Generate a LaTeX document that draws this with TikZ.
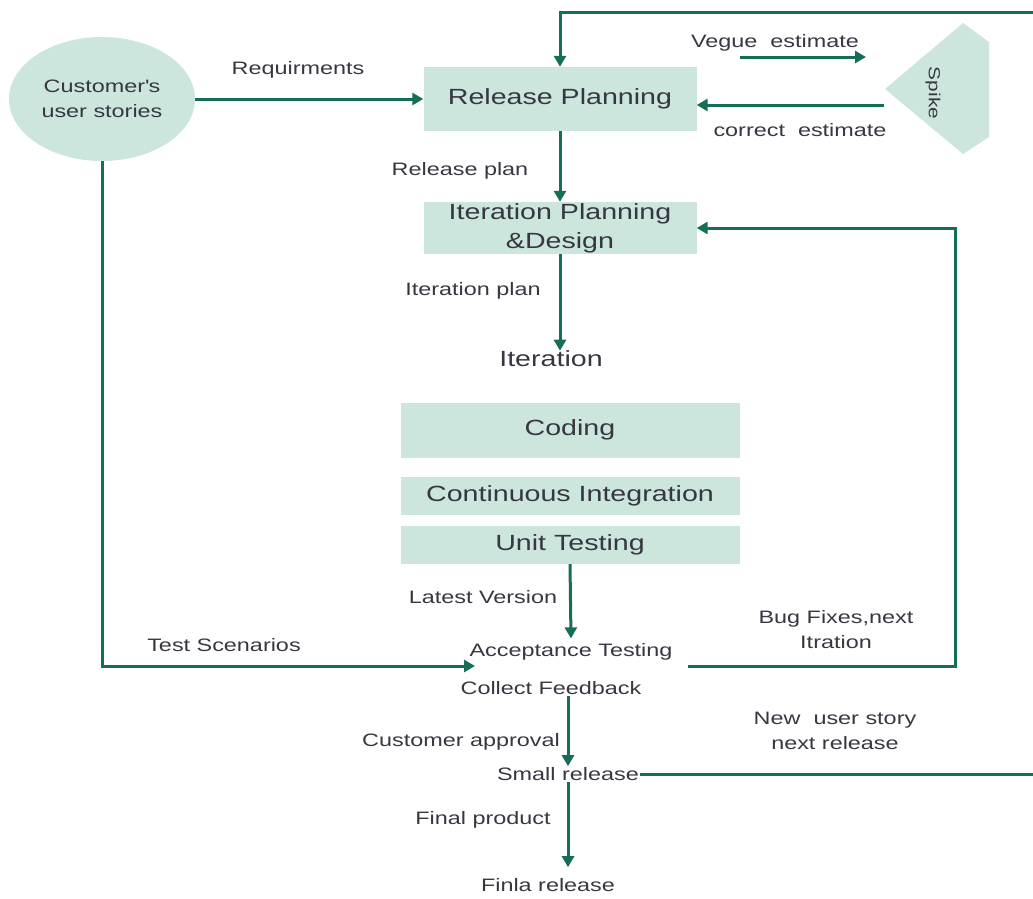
\documentclass[tikz,border=0pt]{standalone}
\usepackage{fontspec}
\setmainfont[FakeStretch=1.3]{Liberation Sans}
\usetikzlibrary{arrows.meta,positioning,calc,shapes.geometric}
\definecolor{flowgreen}{RGB}{22,110,88}
\definecolor{boxfill}{RGB}{204,230,222}
\definecolor{txtgrey}{RGB}{55,55,65}
\newcommand{\bigfont}{\fontsize{22}{29}\selectfont}
\newcommand{\smallfont}{\fontsize{18}{25}\selectfont}

\begin{document}
\begin{tikzpicture}[
  x=1pt, y=-1pt,
  box/.style={fill=boxfill, inner sep=0pt, align=center, font=\bigfont, text=txtgrey},
  lbl/.style={font=\smallfont, text=txtgrey, align=center, inner sep=1pt},
  arrow/.style={-{Triangle[length=11pt,width=12pt]}, line width=3pt, draw=flowgreen},
  flow/.style={line width=3pt, draw=flowgreen},
]
  \useasboundingbox (0,0) rectangle (1033,898);

  % customer and planning
  \node[ellipse, fill=boxfill, minimum width=186pt, minimum height=124pt, font=\smallfont, text=txtgrey, align=center, inner sep=0pt] (stories) at (102,99) {Customer\textquotesingle s\\user stories};
  \node[box, minimum width=273pt, minimum height=64pt] (rp) at (560,99) {Release Planning};
  \node[box, minimum width=273pt, minimum height=52pt] (ip) at (560,228) {Iteration Planning\\\&Design};

  % spike
  \fill[boxfill] (885,89) -- (963,23) -- (989,42) -- (989,137) -- (963,154) -- cycle;
  \node[lbl, rotate=-90, font=\fontsize{16}{18}\selectfont] (spike) at (933,93) {Spike};
  \coordinate (vs) at (740,57);
  \coordinate (ve) at (866,57);
  \coordinate (ce) at (884,105);

  % iteration
  \node[box, fill=none] (iter) at (551,359) {Iteration};
  \node[box, minimum width=339pt, minimum height=55pt] (coding) at (570,430) {Coding};
  \node[box, minimum width=339pt, minimum height=38pt] (ci) at (570,496) {Continuous Integration};
  \node[box, minimum width=339pt, minimum height=38pt] (ut) at (570,545) {Unit Testing};

  % acceptance and release
  \node[lbl] (accept) at (571,652) {Acceptance Testing};
  \node[lbl] (feedback) at (551,688) {Collect Feedback};
  \node[lbl] (smallrel) at (568,774) {Small release};
  \node[lbl] (final) at (548,885) {Finla release};
  \coordinate (ts) at (475,666);
  \coordinate (bf) at (688,666);
  \coordinate (bfx) at (955,666);
  \coordinate (rtop) at (1045,12);
  \coordinate (rbot) at (1045,771);

  % labels
  \node[lbl] (lreq) at (298,70) {Requirments};
  \node[lbl] (lvague) at (775,43) {Vegue\ \ estimate};
  \node[lbl] (lcorrect) at (800,130) {correct\ \ estimate};
  \node[lbl] (lrplan) at (460,171) {Release plan};
  \node[lbl] (liplan) at (473,291) {Iteration plan};
  \node[lbl] (llatest) at (483,597) {Latest Version};
  \node[lbl] (ltest) at (224,645) {Test Scenarios};
  \node[lbl] (lbug) at (836,630) {Bug Fixes,next\\Itration};
  \node[lbl] (lnew) at (835,731) {New\ \ user story\\next release};
  \node[lbl] (lapprove) at (461,742) {Customer approval};
  \node[lbl] (lfinal) at (483,820) {Final product};

  % connectors
  \draw[arrow] (stories.east) -- (rp.west);
  \draw[arrow] (vs) -- (ve);
  \draw[arrow] (ce) -- (ce -| rp.east);
  \draw[arrow] (rp.south) -- (ip.north);
  \draw[arrow] (ip.south) -- (ip.south |- iter.north);
  \draw[arrow] (ut.south) -- ([yshift=4pt]accept.north);
  \draw[arrow] (stories.south) |- (ts);
  \draw[arrow] (bf) -- (bfx) |- (ip.east);
  \draw[arrow] (feedback.south -| smallrel) -- (smallrel.north);
  \draw[arrow] (smallrel.south) -- ([yshift=10pt]smallrel.south |- final.north);
  \draw[arrow] (smallrel.east) -- (smallrel.east -| rbot) -- (rtop) -- (rtop -| rp.north) -- (rp.north);
\end{tikzpicture}
\end{document}
